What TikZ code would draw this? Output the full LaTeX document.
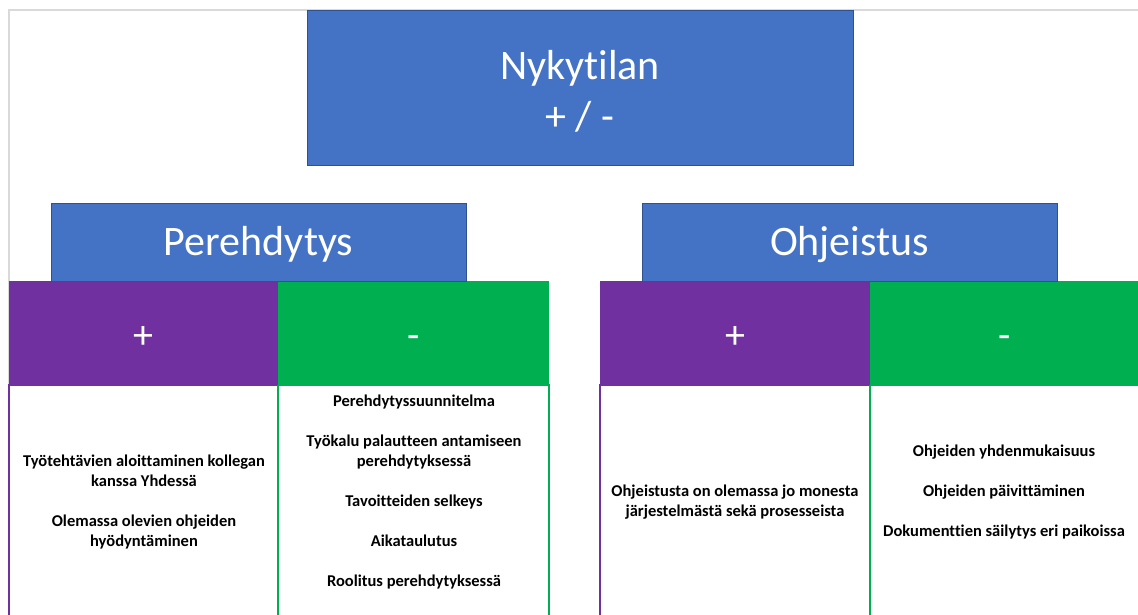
\documentclass[tikz,border=0pt]{standalone}
\usepackage{fontspec}
\setmainfont{Carlito}[Ligatures=NoCommon]
\definecolor{boxblue}{HTML}{4472C4}
\definecolor{boxedge}{HTML}{2F528F}
\definecolor{plusviolet}{HTML}{7030A0}
\definecolor{minusgreen}{HTML}{00B050}
\definecolor{slideedge}{HTML}{D9D9D9}
\tikzset{
  bluebox/.style={draw=boxedge, fill=boxblue, line width=1pt, inner sep=0pt},
  bluetext/.style={text=white, align=center, inner sep=0pt},
  headcell/.style={draw=none, text=white, inner sep=0pt,
    minimum height=104pt, text height=30pt, text depth=0pt,
    font=\fontsize{40}{48}\selectfont},
  plushead/.style={headcell, fill=plusviolet},
  minushead/.style={headcell, fill=minusgreen},
  plusbody/.style={draw=plusviolet, fill=white, line width=1.2pt, inner sep=0pt,
    minimum height=240pt},
  minusbody/.style={draw=minusgreen, fill=white, line width=1.2pt, inner sep=0pt,
    minimum height=240pt},
  bodytext/.style={align=center, inner sep=0pt,
    font=\bfseries\fontsize{16.5}{20}\selectfont},
}
\begin{document}
\begin{tikzpicture}[x=1pt,y=-1pt]
\useasboundingbox (0,0) rectangle (1138,615);
\clip (0,0) rectangle (1138,615);
% slide edge
\draw[slideedge, line width=1.5pt] (9,620) -- (9,10) -- (1140,10);

% column bodies
\node[plusbody,  minimum width=269pt] (pplusb)  at (143.5,505) {};
\node[minusbody, minimum width=271pt] (pminusb) at (413.5,505) {};
\node[plusbody,  minimum width=270pt] (oplusb)  at (735,505) {};
\node[minusbody, minimum width=270pt] (ominusb) at (1005,505) {};

% column headers
\node[plushead,  minimum width=269pt] (pplus)  at (143.5,333) {+};
\node[minushead, minimum width=271pt] (pminus) at (413.5,333) {-};
\node[plushead,  minimum width=270pt] (oplus)  at (735,333) {+};
\node[minushead, minimum width=270pt] (ominus) at (1005,333) {-};

% title and section boxes
\node[bluebox, minimum width=546pt, minimum height=155pt] (title) at (580,88.5) {};
\node[bluebox, minimum width=415pt, minimum height=78pt] (pere) at (258.5,242) {};
\node[bluebox, minimum width=415pt, minimum height=78pt] (ohje) at (849.5,242) {};
\node[bluetext, font=\fontsize{42}{51}\selectfont] (titlet) at (580,91)
  {Nykytilan\\+ / -};
\node[bluetext, font=\fontsize{42}{48}\selectfont] (peret) at (258.5,244.5)
  {Perehdytys};
\node[bluetext, font=\fontsize{42}{48}\selectfont] (ohjet) at (849.5,244.5)
  {Ohjeistus};

% column texts
\node[bodytext] (pplust) at (144,502)
  {Työtehtävien aloittaminen kollegan\\kanssa Yhdessä\\[20pt]
   Olemassa olevien ohjeiden\\hyödyntäminen};
\node[bodytext] (pminust) at (414,492)
  {Perehdytyssuunnitelma\\[20pt]
   Työkalu palautteen antamiseen\\perehdytyksessä\\[20pt]
   Tavoitteiden selkeys\\[20pt]
   Aikataulutus\\[20pt]
   Roolitus perehdytyksessä};
\node[bodytext] (oplust) at (735,502)
  {Ohjeistusta on olemassa jo monesta\\järjestelmästä sekä prosesseista};
\node[bodytext] (ominust) at (1004,492)
  {Ohjeiden yhdenmukaisuus\\[20pt]
   Ohjeiden päivittäminen\\[20pt]
   Dokumenttien säilytys eri paikoissa};
\end{tikzpicture}
\end{document}
